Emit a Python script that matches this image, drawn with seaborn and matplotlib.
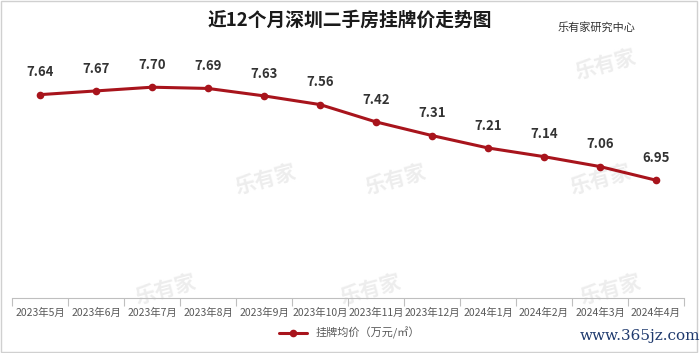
import pandas as pd
import matplotlib
matplotlib.use("Agg")
import matplotlib.pyplot as plt
import seaborn as sns
from matplotlib.ticker import FixedLocator

# 数据
months = ["2023年5月", "2023年6月", "2023年7月", "2023年8月", "2023年9月", "2023年10月",
          "2023年11月", "2023年12月", "2024年1月", "2024年2月", "2024年3月", "2024年4月"]
prices = [7.64, 7.67, 7.70, 7.69, 7.63, 7.56, 7.42, 7.31, 7.21, 7.14, 7.06, 6.95]
series_name = "挂牌均价（万元/㎡）"

LINE_COLOR = "#A8141C"

sns.set_theme(style="white")
plt.rcParams['font.family'] = ['Noto Sans CJK SC', 'DejaVu Sans']

df = pd.DataFrame({"月份": months, "价格": prices, "系列": series_name})
df["x"] = range(len(months))

fig = plt.figure(figsize=(7, 3.53), dpi=100)
ax = fig.add_axes([12 / 700, 1 - 298 / 353, 672 / 700, 248 / 353])
ax.set_facecolor("none")

sns.lineplot(data=df, x="x", y="价格", hue="系列", palette=[LINE_COLOR],
             marker="o", markersize=5.5, linewidth=2.2, markeredgewidth=0, ax=ax)

# 数据标签
for i, v in enumerate(prices):
    ax.annotate(f"{v:.2f}", (i, v), xytext=(0, 11), textcoords="offset points",
                ha="center", va="bottom", fontsize=9.5, fontweight="bold", color="#333333")

ax.set_xlim(-0.5, len(months) - 0.5)
ax.set_ylim(6.0, 8.0)
ax.set_yticks([])
ax.set_xticks(range(len(months)))
ax.set_xticklabels(months, fontsize=7.5, color="#595959")
ax.xaxis.set_minor_locator(FixedLocator([i - 0.5 for i in range(len(months) + 1)]))
ax.tick_params(axis="x", which="major", length=0, pad=7)
ax.tick_params(axis="x", which="minor", length=6, color="#BFBFBF", width=0.8, bottom=True)
ax.set_xlabel("")
ax.set_ylabel("")
for s in ["top", "left", "right"]:
    ax.spines[s].set_visible(False)
ax.spines["bottom"].set_color("#BFBFBF")
ax.spines["bottom"].set_linewidth(0.8)

# 图例
handles, labels = ax.get_legend_handles_labels()
ax.get_legend().remove()
fig.legend(handles, labels, loc="center", bbox_to_anchor=(350 / 700, 1 - 333 / 353),
           frameon=False, fontsize=8, handlelength=2.5, labelcolor="#595959")

# 标题
fig.text(350 / 700, 1 - 20 / 353, "近12个月深圳二手房挂牌价走势图", ha="center", va="center",
         fontsize=13.5, fontweight="bold", color="#1a1a1a")
fig.text(597 / 700, 1 - 27 / 353, "乐有家研究中心", ha="center", va="center",
         fontsize=8, color="#333333")

# 水印（放在坐标轴下面）
for wx, wy in [(605, 65), (265, 180), (395, 180), (600, 180), (165, 290), (370, 290), (610, 290)]:
    fig.text(wx / 700, 1 - wy / 353, "乐有家", ha="center", va="center", fontsize=15,
             fontweight="bold", color="#EDEDED", rotation=15, zorder=-1)
fig.text(640 / 700, 1 - 336 / 353, "www.365jz.com", ha="center", va="center",
         fontsize=11, color="#1F3A6E", family=["DejaVu Serif"])

# 边框
fig.patches.append(plt.Rectangle((0.001, 0.002), 0.994, 0.995, transform=fig.transFigure,
                                 fill=False, edgecolor="#D0D0D0", linewidth=1))

fig.savefig("out.png", dpi=100)
